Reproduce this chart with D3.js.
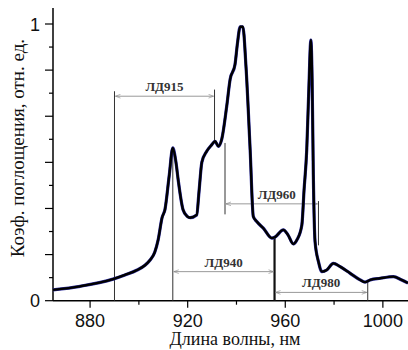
<!DOCTYPE html>
<html>
<head>
<meta charset="utf-8">
<script src="https://cdn.jsdelivr.net/npm/d3@7/dist/d3.min.js"></script>
<style>
  html, body { margin: 0; padding: 0; background: #fff; }
  svg { display: block; }
</style>
</head>
<body>
<div id="chart"></div>
<script>
// wavelength, nm
const wavelength = [864.8, 875.9, 889.4, 894.3, 899.3, 902.5, 904.6, 906.5, 907.9, 909.5, 910.7, 912.4, 913.9,
  915.2, 916.1, 918.1, 919.8, 921.0, 923.7, 924.7, 925.8, 927.8, 929.9,
  931.2, 932.6, 934.0, 936.0, 937.4, 939.4, 940.4, 941.5, 942.6, 943.9,
  945.6, 946.9, 948.3, 951.0, 954.5, 955.8, 959.2, 961.1, 963.3, 964.8,
  966.8, 967.7, 968.8, 969.6, 970.5, 971.0, 971.5, 972.2, 973.6, 975.0,
  977.0, 979.7, 982.5, 986.6, 990.7, 992.7, 994.8, 998.9, 1004.3, 1007.7, 1010.3]
// absorption, rel. units
const absorption = [0.039, 0.052, 0.078, 0.093, 0.111, 0.128, 0.147, 0.175, 0.22, 0.30, 0.33, 0.45, 0.552,
  0.50, 0.437, 0.329, 0.305, 0.30, 0.31, 0.40, 0.50, 0.54, 0.564,
  0.576, 0.558, 0.585, 0.703, 0.80, 0.854, 0.93, 0.99, 0.99, 0.846,
  0.546, 0.304, 0.286, 0.262, 0.226, 0.23, 0.256, 0.238, 0.205, 0.22,
  0.274, 0.40, 0.546, 0.75, 0.942, 0.80, 0.455, 0.214, 0.141, 0.105,
  0.111, 0.135, 0.123, 0.099, 0.075, 0.067, 0.075, 0.081, 0.087, 0.075, 0.064]

const xTicks = [880, 900, 920, 940, 960, 980, 1000]
const xLabels = [880, 920, 960, 1000]
const yTicks = d3.range(0, 13).map(i => i / 12)
const yLabels = [0, 1]

// laser diode ranges: label, from, to, arrow level
const ldLabels = ['ЛД915', 'ЛД960', 'ЛД940', 'ЛД980']
const ldFrom = [890, 935.3, 913.9, 955.6]
const ldTo = [931, 973.6, 955.6, 993.8]
const ldLevel = [0.739, 0.35, 0.105, 0.03]

// vertical marker lines: wavelength, bottom, top
const vlineX = [890, 931, 935.3, 913.9, 973.6, 993.8]
const vlineY0 = [0, 0.57, 0.312, 0, 0.2, 0]
const vlineY1 = [0.757, 0.763, 0.57, 0.54, 0.36, 0.068]
const thickX = 955.6
const thickTop = 0.23

const width = 408
const height = 350

const x = d3.scaleLinear().domain([864.8, 1010.3]).range([53, 408])
const y = d3.scaleLinear().domain([0, 1]).range([300.7, 24])

const svg = d3.select('#chart')
  .append('svg')
  .attr('width', width)
  .attr('height', height)

const defs = svg.append('defs')
defs.append('marker')
  .attr('id', 'arr')
  .attr('viewBox', '0 -4 8 8')
  .attr('refX', 8)
  .attr('refY', 0)
  .attr('markerWidth', 7)
  .attr('markerHeight', 5)
  .attr('markerUnits', 'userSpaceOnUse')
  .attr('orient', 'auto-start-reverse')
  .append('path')
  .attr('d', 'M0,-3L8,0L0,3')
  .attr('fill', 'none')
  .attr('stroke', '#888')
  .attr('stroke-width', 1)

// axes
const xAxis = svg.append('g').attr('transform', `translate(0,${y(0)})`)
xAxis.append('line')
  .attr('x1', 53).attr('x2', 408)
  .attr('stroke', '#000').attr('stroke-width', 1.5)
xAxis.selectAll('line.tick')
  .data(xTicks)
  .enter()
  .append('line')
  .attr('class', 'tick')
  .attr('x1', d => x(d)).attr('x2', d => x(d))
  .attr('y1', 0)
  .attr('y2', d => (xLabels.includes(d) ? 7 : 4))
  .attr('stroke', '#000').attr('stroke-width', 1.2)
xAxis.selectAll('text')
  .data(xLabels)
  .enter()
  .append('text')
  .attr('x', d => x(d))
  .attr('y', 26)
  .attr('text-anchor', 'middle')
  .attr('font-family', 'Liberation Sans, Arial, sans-serif')
  .attr('font-size', 18)
  .attr('fill', '#111')
  .text(d => d)

const yAxis = svg.append('g').attr('transform', 'translate(53,0)')
yAxis.append('line')
  .attr('y1', 8).attr('y2', y(0))
  .attr('stroke', '#000').attr('stroke-width', 1.5)
yAxis.selectAll('line.tick')
  .data(yTicks)
  .enter()
  .append('line')
  .attr('class', 'tick')
  .attr('y1', d => y(d)).attr('y2', d => y(d))
  .attr('x1', (d, i) => (i % 2 === 0 ? -8 : -4))
  .attr('x2', 0)
  .attr('stroke', '#000').attr('stroke-width', 1.2)
yAxis.selectAll('text')
  .data(yLabels)
  .enter()
  .append('text')
  .attr('x', -13)
  .attr('y', d => y(d) + 6.5)
  .attr('text-anchor', 'end')
  .attr('font-family', 'Liberation Sans, Arial, sans-serif')
  .attr('font-size', 18)
  .attr('fill', '#111')
  .text(d => d)

// axis titles
svg.append('text')
  .attr('x', 235)
  .attr('y', 345)
  .attr('text-anchor', 'middle')
  .attr('font-family', 'Liberation Serif, Times New Roman, serif')
  .attr('font-size', 18)
  .attr('fill', '#111')
  .text('Длина волны, нм')

svg.append('text')
  .attr('transform', 'translate(24,148) rotate(-90)')
  .attr('text-anchor', 'middle')
  .attr('font-family', 'Liberation Serif, Times New Roman, serif')
  .attr('font-size', 19)
  .attr('fill', '#111')
  .text('Коэф. поглощения, отн. ед.')

// marker lines
const marks = svg.append('g')
marks.selectAll('line')
  .data(vlineX)
  .enter()
  .append('line')
  .attr('x1', d => x(d)).attr('x2', d => x(d))
  .attr('y1', (d, i) => y(vlineY0[i]))
  .attr('y2', (d, i) => y(vlineY1[i]))
  .attr('stroke', '#333').attr('stroke-width', 1)

svg.append('line')
  .attr('x1', x(thickX)).attr('x2', x(thickX))
  .attr('y1', y(0)).attr('y2', y(thickTop))
  .attr('stroke', '#111').attr('stroke-width', 2.2)

// range arrows with labels
const ranges = svg.append('g')
ranges.selectAll('line')
  .data(ldLabels)
  .enter()
  .append('line')
  .attr('x1', (d, i) => x(ldFrom[i]) + 1)
  .attr('x2', (d, i) => x(ldTo[i]) - 1)
  .attr('y1', (d, i) => y(ldLevel[i]))
  .attr('y2', (d, i) => y(ldLevel[i]))
  .attr('stroke', '#999').attr('stroke-width', 1)
  .attr('marker-start', 'url(#arr)')
  .attr('marker-end', 'url(#arr)')

ranges.selectAll('text')
  .data(ldLabels)
  .enter()
  .append('text')
  .attr('x', (d, i) => (x(ldFrom[i]) + x(ldTo[i])) / 2 + (i === 1 ? 5 : 0))
  .attr('y', (d, i) => y(ldLevel[i]) - 5)
  .attr('text-anchor', 'middle')
  .attr('font-family', 'Liberation Serif, Times New Roman, serif')
  .attr('font-weight', 'bold')
  .attr('font-size', 13)
  .attr('fill', '#333')
  .text(d => d)

// spectrum
const points = wavelength.map((w, i) => [w, absorption[i]])
const line = d3.line()
  .x(d => x(d[0]))
  .y(d => y(d[1]))
  .curve(d3.curveMonotoneX)

svg.append('path')
  .datum(points)
  .attr('d', line)
  .attr('fill', 'none')
  .attr('stroke', '#2a2a9a')
  .attr('stroke-width', 3.2)
  .attr('stroke-linejoin', 'round')

svg.append('path')
  .datum(points)
  .attr('d', line)
  .attr('fill', 'none')
  .attr('stroke', '#000')
  .attr('stroke-width', 2.4)
  .attr('stroke-linejoin', 'round')
</script>
</body>
</html>
